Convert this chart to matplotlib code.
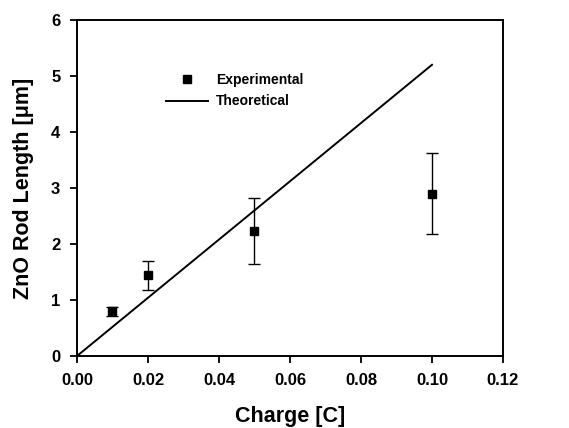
import matplotlib
matplotlib.use("Agg")
import matplotlib.pyplot as plt
from matplotlib.lines import Line2D
import numpy as np

plt.rcParams["font.family"] = ["Liberation Sans", "DejaVu Sans"]
plt.rcParams["font.weight"] = "bold"

# experimental data
charge = [0.01, 0.02, 0.05, 0.10]
length = [0.80, 1.45, 2.23, 2.90]
err_low = [0.71, 1.18, 1.64, 2.17]
err_high = [0.88, 1.70, 2.82, 3.62]

# theoretical line
theo_charge = [0.0, 0.10]
theo_length = [0.0, 5.2]

x_ticks = [0.00, 0.02, 0.04, 0.06, 0.08, 0.10, 0.12]
y_ticks = [0, 1, 2, 3, 4, 5, 6]

fig = plt.figure(figsize=(5.69, 4.28), dpi=100)
ax = fig.add_axes([0.1353, 0.1682, 0.7487, 0.7851])

yerr = np.array([np.array(length) - np.array(err_low), np.array(err_high) - np.array(length)])
ax.errorbar(charge, length, yerr=yerr, fmt="s", color="black", markersize=6,
            ecolor="black", elinewidth=1.0, capsize=4, capthick=1.0)
ax.plot(theo_charge, theo_length, color="black", linewidth=1.4)

ax.set_xlim(0, 0.12)
ax.set_ylim(0, 6)
ax.set_xticks(x_ticks)
ax.set_xticklabels([f"{v:.2f}" for v in x_ticks])
ax.set_yticks(y_ticks)
ax.tick_params(direction="out", length=5, width=1.3, labelsize=12, pad=7)
for s in ax.spines.values():
    s.set_linewidth(1.4)

ax.set_xlabel("Charge [C]", fontsize=15.5, fontweight="bold", labelpad=13)
ax.set_ylabel("ZnO Rod Length [μm]", fontsize=15.5, fontweight="bold", labelpad=12)

handles = [
    Line2D([0], [0], marker="s", color="black", linestyle="none", markersize=6),
    Line2D([0], [0], color="black", linewidth=1.4),
]
leg = ax.legend(handles, ["Experimental", "Theoretical"], loc="upper left",
                bbox_to_anchor=(0.18, 0.88), frameon=False, fontsize=10,
                handlelength=3.0, handletextpad=0.6, labelspacing=0.55)

fig.savefig("out.png", dpi=100)
